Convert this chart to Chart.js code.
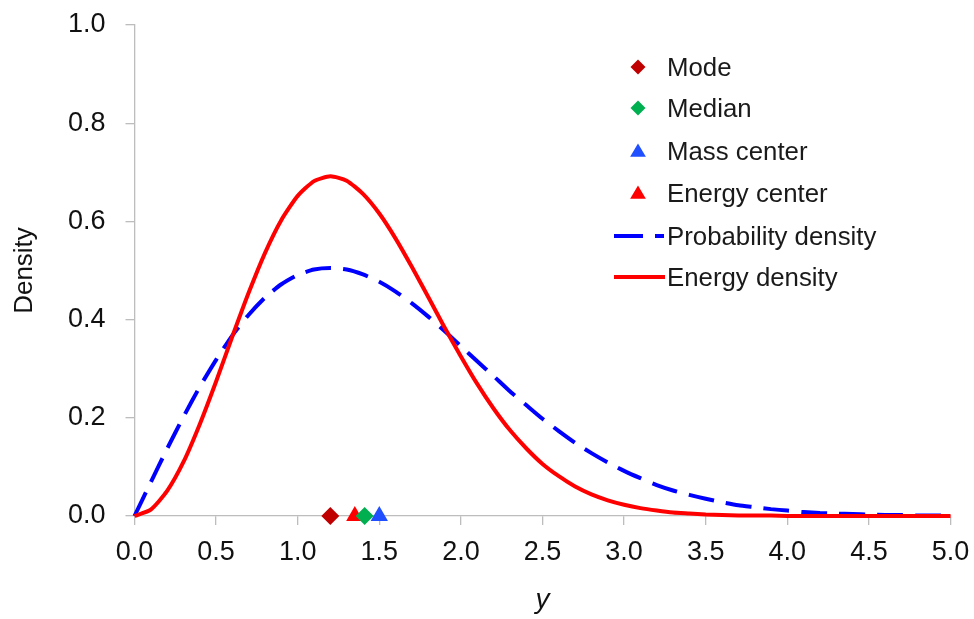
<!DOCTYPE html>
<html>
<head>
<meta charset="utf-8">
<script src="https://cdn.jsdelivr.net/npm/chart.js@4.4.1/dist/chart.umd.min.js"></script>
<style>
  html, body { margin: 0; padding: 0; background: #fff; }
  #wrap { width: 974px; height: 619px; }
</style>
</head>
<body>
<div id="wrap"><canvas id="densityChart" width="974" height="619"></canvas></div>
<script>
// y values (x axis), step 0.1
const yValues = [0.0, 0.1, 0.2, 0.3, 0.4, 0.5, 0.6, 0.7, 0.8, 0.9,
                 1.0, 1.1, 1.2, 1.3, 1.4, 1.5, 1.6, 1.7, 1.8, 1.9,
                 2.0, 2.1, 2.2, 2.3, 2.4, 2.5, 2.6, 2.7, 2.8, 2.9,
                 3.0, 3.1, 3.2, 3.3, 3.4, 3.5, 3.6, 3.7, 3.8, 3.9,
                 4.0, 4.1, 4.2, 4.3, 4.4, 4.5, 4.6, 4.7, 4.8, 4.9, 5.0];

const probDensity = [0.000, 0.069, 0.137, 0.202, 0.263, 0.318, 0.368, 0.410, 0.445, 0.472,
                     0.491, 0.502, 0.505, 0.502, 0.492, 0.477, 0.457, 0.433, 0.406, 0.377,
                     0.346, 0.315, 0.285, 0.254, 0.226, 0.198, 0.173, 0.149, 0.128, 0.109,
                     0.092, 0.077, 0.063, 0.052, 0.043, 0.035, 0.028, 0.022, 0.018, 0.014,
                     0.011, 0.008, 0.006, 0.005, 0.004, 0.003, 0.002, 0.002, 0.001, 0.001, 0.001];

const energyDensity = [0.000, 0.013, 0.051, 0.110, 0.187, 0.274, 0.366, 0.455, 0.536, 0.603,
                       0.652, 0.682, 0.692, 0.683, 0.656, 0.616, 0.565, 0.507, 0.446, 0.384,
                       0.325, 0.269, 0.219, 0.175, 0.138, 0.106, 0.081, 0.060, 0.044, 0.032,
                       0.023, 0.016, 0.011, 0.007, 0.005, 0.003, 0.002, 0.001, 0.001, 0.001,
                       0.000, 0.000, 0.000, 0.000, 0.000, 0.000, 0.000, 0.000, 0.000, 0.000, 0.000];

// characteristic points, all drawn on the axis (density 0)
const modeY = 1.20;
const medianY = 1.41;
const massCenterY = 1.50;
const energyCenterY = 1.35;

const xTicks = [0, 0.5, 1, 1.5, 2, 2.5, 3, 3.5, 4, 4.5, 5];
const yTicks = [0, 0.2, 0.4, 0.6, 0.8, 1.0];

const FONT = 'Liberation Sans, Arial, Helvetica, sans-serif';
const axisGray = '#bdbdbd';

function toPoints(xs, ys) {
    return xs.map((x, i) => ({ x: x, y: ys[i] }));
}

// legend drawn inside the plot, Excel-like
const legendRows = [
    { y: 67, kind: 'rectRot', color: '#c00000' },
    { y: 108, kind: 'rectRot', color: '#00b050' },
    { y: 151, kind: 'triangle', color: '#1f4fff' },
    { y: 193, kind: 'triangle', color: '#ff0000' },
    { y: 236, kind: 'dash', color: '#0000ff' },
    { y: 277, kind: 'line', color: '#ff0000' }
];
const legendLabels = ['Mode', 'Median', 'Mass center', 'Energy center', 'Probability density', 'Energy density'];

function drawMarker(ctx, kind, x, y, r, color) {
    ctx.save();
    ctx.fillStyle = color;
    ctx.beginPath();
    if (kind === 'rectRot') {
        ctx.moveTo(x, y - r);
        ctx.lineTo(x + r, y);
        ctx.lineTo(x, y + r);
        ctx.lineTo(x - r, y);
    } else {
        ctx.moveTo(x, y - r);
        ctx.lineTo(x + r * 1.05, y + r * 0.75);
        ctx.lineTo(x - r * 1.05, y + r * 0.75);
    }
    ctx.closePath();
    ctx.fill();
    ctx.restore();
}

const insideLegend = {
    id: 'insideLegend',
    afterDraw(chart) {
        const ctx = chart.ctx;
        ctx.save();
        ctx.font = '25.8px ' + FONT;
        ctx.textBaseline = 'alphabetic';
        ctx.fillStyle = '#1a1a1a';
        legendRows.forEach((row, i) => {
            if (row.kind === 'rectRot' || row.kind === 'triangle') {
                drawMarker(ctx, row.kind, 638, row.y, 7.5, row.color);
            } else {
                ctx.save();
                ctx.strokeStyle = row.color;
                ctx.lineWidth = 4;
                ctx.beginPath();
                if (row.kind === 'dash') {
                    ctx.moveTo(614, row.y); ctx.lineTo(643, row.y);
                    ctx.moveTo(655, row.y); ctx.lineTo(664, row.y);
                } else {
                    ctx.moveTo(614, row.y); ctx.lineTo(665, row.y);
                }
                ctx.stroke();
                ctx.restore();
            }
            ctx.fillText(legendLabels[i], 667, row.y + 9);
        });
        ctx.restore();
    }
};

const ctx = document.getElementById('densityChart').getContext('2d');

new Chart(ctx, {
    type: 'line',
    data: {
        datasets: [
            {
                label: 'Mass center',
                type: 'scatter',
                data: [{ x: massCenterY, y: 0 }],
                pointStyle: 'triangle',
                pointRadius: 10,
                backgroundColor: '#1f4fff',
                borderColor: '#1f4fff',
                borderWidth: 0,
                clip: false,
                order: 0
            },
            {
                label: 'Median',
                type: 'scatter',
                data: [{ x: medianY, y: 0 }],
                pointStyle: 'rectRot',
                pointRadius: 9,
                backgroundColor: '#00b050',
                borderColor: '#00b050',
                borderWidth: 0,
                clip: false,
                order: 1
            },
            {
                label: 'Energy center',
                type: 'scatter',
                data: [{ x: energyCenterY, y: 0 }],
                pointStyle: 'triangle',
                pointRadius: 10,
                backgroundColor: '#ff0000',
                borderColor: '#ff0000',
                borderWidth: 0,
                clip: false,
                order: 2
            },
            {
                label: 'Mode',
                type: 'scatter',
                data: [{ x: modeY, y: 0 }],
                pointStyle: 'rectRot',
                pointRadius: 9,
                backgroundColor: '#c00000',
                borderColor: '#c00000',
                borderWidth: 0,
                clip: false,
                order: 3
            },
            {
                label: 'Energy density',
                data: toPoints(yValues, energyDensity),
                borderColor: '#ff0000',
                borderWidth: 4,
                pointRadius: 0,
                tension: 0.2,
                fill: false,
                clip: false,
                order: 4
            },
            {
                label: 'Probability density',
                data: toPoints(yValues, probDensity),
                borderColor: '#0000ff',
                borderWidth: 4,
                borderDash: [26, 12],
                pointRadius: 0,
                tension: 0.2,
                fill: false,
                clip: false,
                order: 5
            }
        ]
    },
    options: {
        responsive: false,
        animation: false,
        devicePixelRatio: 1,
        layout: { padding: { top: 25, right: 23.5, bottom: 0, left: 0 } },
        plugins: {
            legend: { display: false },
            tooltip: { enabled: false }
        },
        scales: {
            x: {
                type: 'linear',
                min: 0,
                max: 5,
                afterFit: (scale) => {
                    scale.height = 103;
                    scale.paddingLeft = 0;
                    scale.paddingRight = 0;
                },
                afterBuildTicks: (scale) => { scale.ticks = xTicks.map(v => ({ value: v })); },
                ticks: {
                    callback: (v) => Number(v).toFixed(1),
                    color: '#111',
                    font: { family: FONT, size: 27 },
                    padding: 11,
                    maxRotation: 0,
                    autoSkip: false
                },
                grid: { drawOnChartArea: false, drawTicks: true, tickLength: 9, color: axisGray, lineWidth: 1.3 },
                border: { color: axisGray, width: 1.3 },
                title: {
                    display: true,
                    text: 'y',
                    color: '#111',
                    font: { family: FONT, size: 28, style: 'italic' },
                    padding: { top: 0, bottom: 2 }
                }
            },
            y: {
                min: 0,
                max: 1,
                afterFit: (scale) => {
                    scale.width = 134.5;
                    scale.paddingTop = 0;
                    scale.paddingBottom = 0;
                },
                afterBuildTicks: (scale) => { scale.ticks = yTicks.map(v => ({ value: v })); },
                ticks: {
                    callback: (v) => Number(v).toFixed(1),
                    color: '#111',
                    font: { family: FONT, size: 27 },
                    padding: 20
                },
                grid: { drawOnChartArea: false, drawTicks: true, tickLength: 9, color: axisGray, lineWidth: 1.3 },
                border: { color: axisGray, width: 1.3 },
                title: {
                    display: true,
                    text: 'Density',
                    color: '#111',
                    font: { family: FONT, size: 26 },
                    padding: { top: 9, bottom: 0 }
                }
            }
        }
    },
    plugins: [insideLegend]
});
</script>
</body>
</html>
